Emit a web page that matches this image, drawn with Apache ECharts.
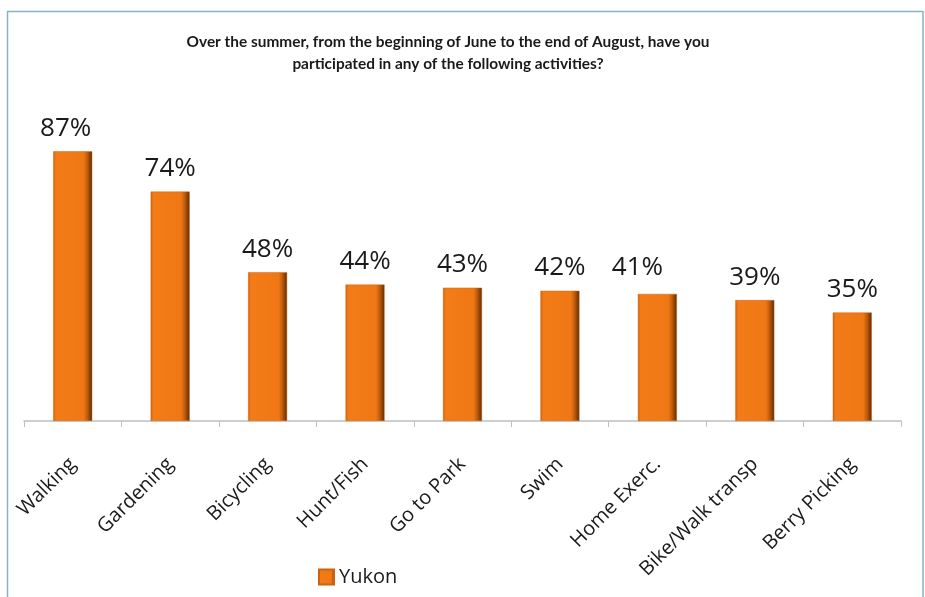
<!DOCTYPE html>
<html>
<head>
<meta charset="utf-8">
<script src="https://cdn.jsdelivr.net/npm/echarts@6/dist/echarts.min.js"></script>
<style>
  html, body { margin: 0; padding: 0; background: #fff; }
  #chart { width: 925px; height: 597px; }
</style>
</head>
<body>
<div id="chart"></div>
<script>
// Summer activity participation, Yukon
const categories = ['Walking', 'Gardening', 'Bicycling', 'Hunt/Fish', 'Go to Park', 'Swim', 'Home Exerc.', 'Bike/Walk transp', 'Berry Picking'];
const yukonValues = [87, 74, 48, 44, 43, 42, 41, 39, 35];
const seriesName = 'Yukon';
const titleText = 'Over the summer, from the beginning of June to the end of August, have you\nparticipated in any of the following activities?';

// a few value labels sit nudged away from their bar centre
const labelNudges = { 'Walking': [-7, 0], 'Home Exerc.': [-20, -3] };

const barFill = {
  type: 'linear', x: 0, y: 0, x2: 1, y2: 0,
  colorStops: [
    { offset: 0, color: '#D0600C' },
    { offset: 0.07, color: '#F47C18' },
    { offset: 0.78, color: '#F07814' },
    { offset: 0.88, color: '#BE5A0C' },
    { offset: 1, color: '#5A2A04' }
  ]
};

const barData = yukonValues.map((v, i) => {
  const nudge = labelNudges[categories[i]];
  return nudge ? { value: v, label: { offset: nudge } } : v;
});

const chart = echarts.init(document.getElementById('chart'), null, { renderer: 'canvas' });
chart.setOption({
  animation: false,
  backgroundColor: '#ffffff',
  graphic: [{
    type: 'rect',
    shape: { x: 7.5, y: 11.5, width: 915.5, height: 620 },
    style: { fill: 'none', stroke: '#86B4C2', lineWidth: 1.5 },
    silent: true
  }],
  title: {
    text: titleText,
    left: 443, top: 26, textAlign: 'center',
    textStyle: { fontFamily: 'Lato', fontSize: 15.4, fontWeight: 'bold', color: '#1a1a1a', lineHeight: 22 }
  },
  legend: {
    data: [seriesName],
    left: 313, top: 562,
    icon: 'rect', itemWidth: 15, itemHeight: 15, itemGap: 6,
    textStyle: { fontFamily: 'Open Sans', fontSize: 20, color: '#1a1a1a' }
  },
  grid: { left: 24, right: 24, top: 111, bottom: 176, containLabel: false },
  xAxis: {
    type: 'category',
    data: categories,
    axisLine: { lineStyle: { color: '#BFBFBF', width: 1.5 } },
    axisTick: { show: true, length: 6, lineStyle: { color: '#BFBFBF' } },
    axisLabel: { rotate: 45, margin: 40, interval: 0, fontFamily: 'Open Sans', fontSize: 20, color: '#1a1a1a' }
  },
  yAxis: {
    type: 'value', min: 0, max: 100, show: false,
    splitLine: { show: false }
  },
  series: [{
    name: seriesName,
    type: 'bar',
    data: barData,
    barWidth: 39,
    itemStyle: { color: barFill, borderColor: '#C86410', borderWidth: 0.5 },
    label: {
      show: true, position: 'top', distance: 10,
      formatter: p => p.value + '%',
      fontFamily: 'Open Sans', fontSize: 26, color: '#1a1a1a'
    }
  }]
});
</script>
</body>
</html>
